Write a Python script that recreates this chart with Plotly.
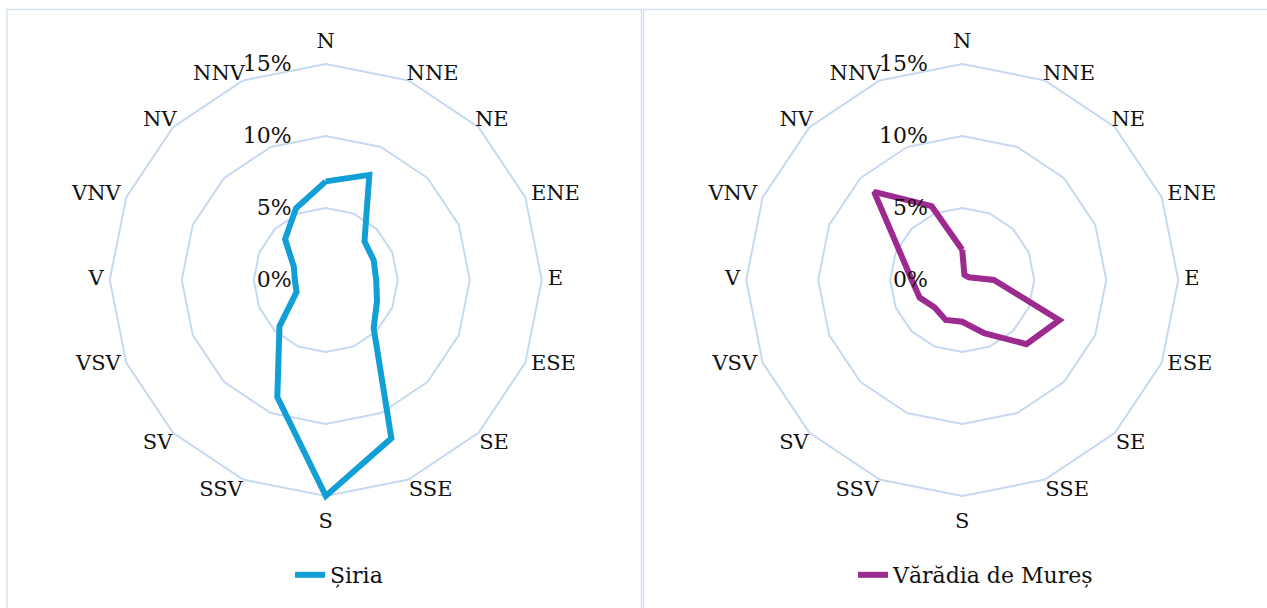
import plotly.graph_objects as go

directions = ["N", "NNE", "NE", "ENE", "E", "ESE", "SE", "SSE",
              "S", "SSV", "SV", "VSV", "V", "VNV", "NV", "NNV"]
siria = [6.85, 7.9, 3.8, 3.6, 3.5, 3.85, 4.7, 11.9,
         15.0, 8.8, 4.55, 2.2, 2.15, 2.4, 4.0, 5.4]
varadia = [2.1, 0.4, 0.4, 0.5, 2.2, 7.3, 6.3, 4.0,
           2.9, 3.0, 2.7, 3.2, 3.5, 4.6, 8.65, 5.55]
series_names = ["Șiria", "Vărădia de Mureș"]
series_colors = ["#129fd6", "#9c2a8f"]
radial_ticks = [0, 5, 10, 15]
RMAX = 15

W, H = 1267, 608
FONT = "DejaVu Serif"
GRID = "#c6d9f1"
BORDER = "#d5e1f2"
FS_DIR = 21
FS_TICK = 22
FS_LEG = 22
AX_MAX = RMAX * 1.2             # axis range leaves room for the labels
R15 = 216                       # pixel radius of the 15% ring


def label_style(k):
    """Excel-like placement of the direction label for compass index k."""
    sector = k % 16
    if sector == 0:
        return "top center", 11
    if sector == 8:
        return "bottom center", 16
    right = sector < 8
    side = "right" if right else "left"
    s = sector if right else 16 - sector
    if s in (1, 2):
        return "top " + side, -5
    if s in (3, 4, 5):
        return "middle " + side, 6
    return "bottom " + side, 1


label_pos = [label_style(k)[0] for k in range(len(directions))]
label_r = [RMAX * (1 + label_style(k)[1] / R15) for k in range(len(directions))]

fig = go.Figure()
for i, (vals, name, col) in enumerate(zip([siria, varadia], series_names, series_colors)):
    sp = "polar" if i == 0 else "polar2"
    fig.add_trace(go.Scatterpolar(
        r=vals + vals[:1], theta=directions + directions[:1],
        mode="lines", name=name, showlegend=True,
        line=dict(color=col, width=6),
        subplot=sp,
        legend="legend" if i == 0 else "legend2",
    ))
    fig.add_trace(go.Scatterpolar(
        r=label_r, theta=directions, text=directions,
        mode="text", textposition=label_pos, cliponaxis=False,
        textfont=dict(family=FONT, size=FS_DIR, color="#111"),
        showlegend=False, hoverinfo="skip", subplot=sp,
    ))

def polar_layout(cx):
    R = R15 * AX_MAX / RMAX
    cy = 280
    return dict(
        domain=dict(x=[(cx - R) / W, (cx + R) / W],
                    y=[(H - cy - R) / H, (H - cy + R) / H]),
        gridshape="linear",
        bgcolor="rgba(0,0,0,0)",
        radialaxis=dict(range=[0, AX_MAX], tickvals=radial_ticks,
                        ticktext=[f"{v}%" for v in radial_ticks],
                        angle=90, side="counterclockwise", tickangle=90,
                        showline=False, ticks="outside", ticklen=26,
                        tickcolor="rgba(0,0,0,0)",
                        gridcolor=GRID, gridwidth=1.6,
                        tickfont=dict(family=FONT, size=FS_TICK, color="#111")),
        angularaxis=dict(direction="clockwise", rotation=90,
                         categoryorder="array", categoryarray=directions,
                         showgrid=False, showline=False,
                         showticklabels=False, ticks=""),
    )

fig.update_layout(
    width=W, height=H, autosize=False,
    margin=dict(l=0, r=0, t=0, b=0),
    paper_bgcolor="white", plot_bgcolor="white",
    showlegend=True,
    polar=polar_layout(325.8),
    polar2=polar_layout(962.2),
    legend=dict(x=290 / W, y=33 / H, xanchor="left", yanchor="middle",
                font=dict(family=FONT, size=FS_LEG, color="#111"), bgcolor="rgba(0,0,0,0)"),
    legend2=dict(x=853 / W, y=33 / H, xanchor="left", yanchor="middle",
                 font=dict(family=FONT, size=FS_LEG, color="#111"), bgcolor="rgba(0,0,0,0)"),
    shapes=[
        dict(type="rect", xref="paper", yref="paper", x0=7 / W, x1=641.5 / W,
             y0=-0.05, y1=(H - 9.5) / H, line=dict(color=BORDER, width=1.5)),
        dict(type="rect", xref="paper", yref="paper", x0=643.5 / W, x1=1.05,
             y0=-0.05, y1=(H - 9.5) / H, line=dict(color=BORDER, width=1.5)),
    ],
)

fig.write_html("out.html", config={"displayModeBar": False},
               post_script="document.body.style.margin='0px';")
